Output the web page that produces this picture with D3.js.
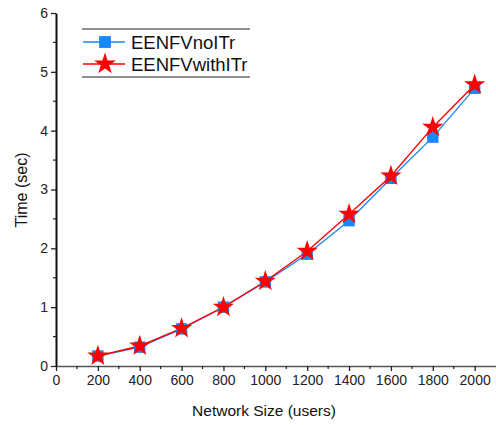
<!DOCTYPE html>
<html><head><meta charset="utf-8">
<script src="https://cdn.jsdelivr.net/npm/d3@7"></script>
<style>body{margin:0;background:#fff;} svg{display:block;font-family:"Liberation Sans",Arial,sans-serif;}</style>
</head><body><svg id="c" width="496" height="425"></svg>
<script>
const sizes = [200,400,600,800,1000,1200,1400,1600,1800,2000];
const noITr = [0.17,0.32,0.63,1.0,1.43,1.90,2.47,3.19,3.89,4.72];
const withITr = [0.17,0.34,0.64,1.0,1.44,1.95,2.58,3.23,4.06,4.78];
const seriesNames = ["EENFVnoITr","EENFVwithITr"];
const xTicks = [0,200,400,600,800,1000,1200,1400,1600,1800,2000];
const yTicks = [0,1,2,3,4,5,6];

const svg = d3.select("#c");
const x = d3.scaleLinear().domain([0,2100]).range([56,495.6]);
const y = d3.scaleLinear().domain([0,6]).range([366,13]);

// axes
const xAxis = d3.axisBottom(x).tickValues(xTicks).tickSize(5).tickSizeOuter(0).tickFormat(d3.format("d"));
const gx = svg.append("g").attr("transform",`translate(0,${y(0)})`).call(xAxis);
gx.select(".domain").attr("stroke","#555").attr("stroke-width",1.5);
gx.selectAll(".tick line").attr("stroke","#222").attr("stroke-width",1.3);
gx.selectAll(".tick text").attr("font-size",14).attr("fill","#222").attr("dy","0.85em").attr("y",7);
// x minor
svg.append("g").selectAll("line").data(d3.range(100,2100,200)).join("line")
  .attr("x1",d=>x(d)).attr("x2",d=>x(d)).attr("y1",y(0)).attr("y2",y(0)+3)
  .attr("stroke","#222").attr("stroke-width",1.2);

const yAxis = d3.axisLeft(y).tickValues(yTicks).tickSize(5).tickSizeOuter(0).tickFormat(d3.format("d"));
const gy = svg.append("g").attr("transform",`translate(${x(0)},0)`).call(yAxis);
gy.select(".domain").attr("stroke","#111").attr("stroke-width",2);
gy.selectAll(".tick line").attr("stroke","#222").attr("stroke-width",1.3);
gy.selectAll(".tick text").attr("font-size",14).attr("fill","#222").attr("x",-8);
svg.append("g").selectAll("line").data(d3.range(0.5,6,1)).join("line")
  .attr("x1",x(0)).attr("x2",x(0)-3).attr("y1",d=>y(d)).attr("y2",d=>y(d))
  .attr("stroke","#222").attr("stroke-width",1.2);

// axis titles
svg.append("text").attr("x",264).attr("y",416).attr("text-anchor","middle")
  .attr("font-size",15.5).attr("fill","#111").text("Network Size (users)");
svg.append("text").attr("transform","translate(27,190) rotate(-90)").attr("text-anchor","middle")
  .attr("font-size",16).attr("fill","#111").text("Time (sec)");

const line = d3.line().x((d,i)=>x(sizes[i])).y(d=>y(d));
const blue = "#1a86ff", red = "#ff0000";
svg.append("path").datum(noITr).attr("d",line).attr("fill","none").attr("stroke",blue).attr("stroke-width",1.3);
svg.append("path").datum(withITr).attr("d",line).attr("fill","none").attr("stroke",red).attr("stroke-width",1.4);

const sq = d3.symbol().type(d3.symbolSquare).size(130);
const st = d3.symbol().type(d3.symbolStar).size(140);
svg.append("g").selectAll("path").data(noITr).join("path")
  .attr("transform",(d,i)=>`translate(${x(sizes[i])},${y(d)})`).attr("d",sq).attr("fill",blue);
svg.append("g").selectAll("path").data(withITr).join("path")
  .attr("transform",(d,i)=>`translate(${x(sizes[i])},${y(d)})`).attr("d",st).attr("fill",red);

// legend
const lg = svg.append("g");
lg.append("line").attr("x1",82).attr("x2",250).attr("y1",29).attr("y2",29).attr("stroke","#222").attr("stroke-width",1.2);
lg.append("line").attr("x1",82).attr("x2",250).attr("y1",77).attr("y2",77).attr("stroke","#222").attr("stroke-width",1.2);
const cols=[blue,red];
const lsyms=[d3.symbol().type(d3.symbolSquare).size(140), d3.symbol().type(d3.symbolStar).size(150)];
seriesNames.forEach((n,i)=>{
  const yy = 42 + i*22;
  lg.append("line").attr("x1",83).attr("x2",125).attr("y1",yy).attr("y2",yy).attr("stroke",cols[i]).attr("stroke-width",1.3);
  lg.append("path").attr("transform",`translate(105,${yy})`).attr("d",lsyms[i]).attr("fill",cols[i]);
  lg.append("text").attr("x",131).attr("y",yy).attr("dy","0.36em").attr("font-size",18.5).attr("fill","#111").text(n);
});
</script></body></html>
